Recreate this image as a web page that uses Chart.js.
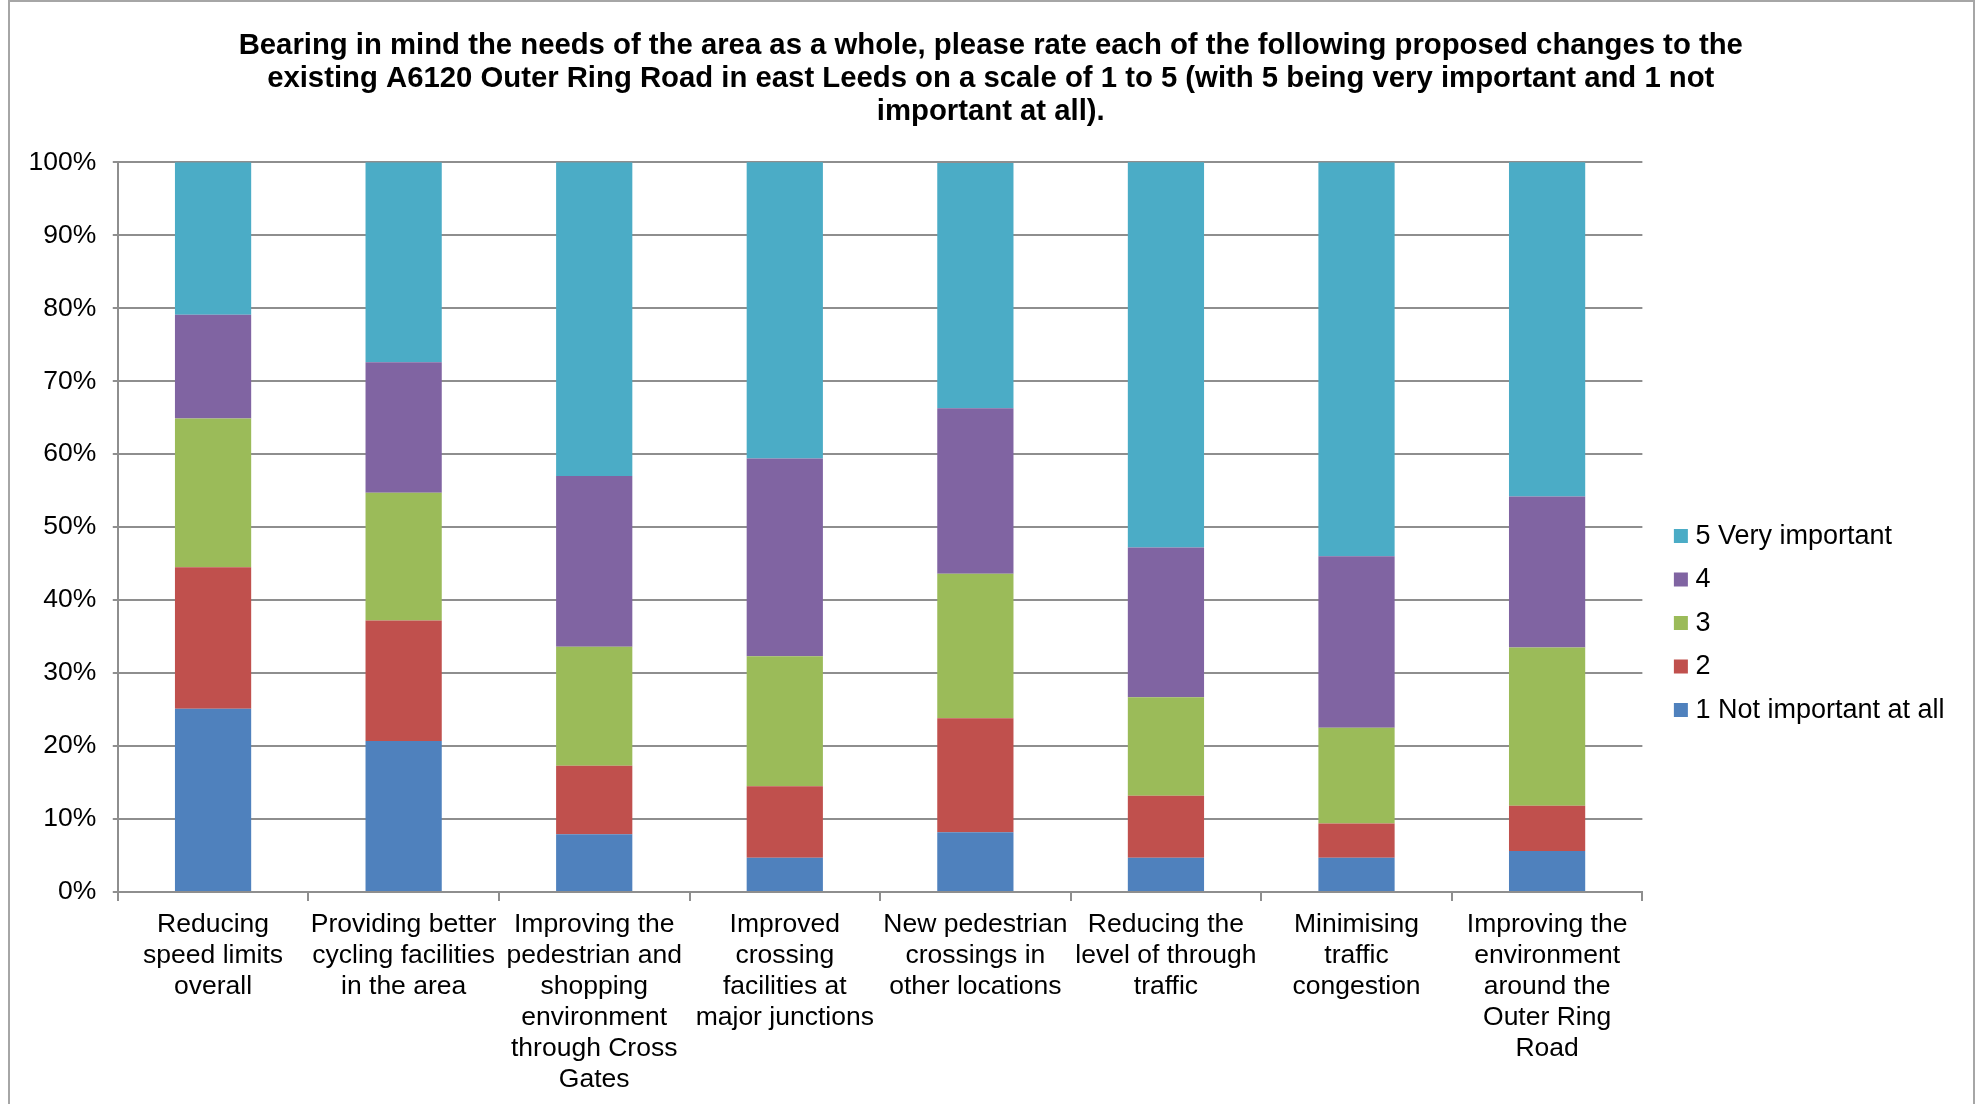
<!DOCTYPE html>
<html>
<head>
<meta charset="utf-8">
<script src="https://cdn.jsdelivr.net/npm/chart.js@4"></script>
<style>
    html, body { margin: 0; padding: 0; background: #fff; overflow: hidden; }
    #frame {
        position: absolute;
        left: 8px;
        top: 0;
        width: 1963px;
        height: 1104px;
        border: 2px solid #a6a6a6;
        border-bottom: none;
    }
</style>
</head>
<body>
<div id="frame">
    <canvas id="ratingChart" width="1963" height="1102"></canvas>
</div>
<script>
// 設問タイトル
const titleLines = [
    'Bearing in mind the needs of the area as a whole, please rate each of the following proposed changes to the',
    'existing A6120 Outer Ring Road in east Leeds on a scale of 1 to 5 (with 5 being very important and 1 not',
    'important at all).'
];

// カテゴリ (複数行ラベル)
const categories = [
    ['Reducing', 'speed limits', 'overall'],
    ['Providing better', 'cycling facilities', 'in the area'],
    ['Improving the', 'pedestrian and', 'shopping', 'environment', 'through Cross', 'Gates'],
    ['Improved', 'crossing', 'facilities at', 'major junctions'],
    ['New pedestrian', 'crossings in', 'other locations'],
    ['Reducing the', 'level of through', 'traffic'],
    ['Minimising', 'traffic', 'congestion'],
    ['Improving the', 'environment', 'around the', 'Outer Ring', 'Road']
];

// 各評価の割合 (%)
const rating1 = [25.1, 20.7, 7.9, 4.7, 8.2, 4.7, 4.7, 5.6];
const rating2 = [19.4, 16.5, 9.4, 9.8, 15.6, 8.5, 4.7, 6.2];
const rating3 = [20.4, 17.5, 16.3, 17.8, 19.8, 13.5, 13.1, 21.7];
const rating4 = [14.2, 17.9, 23.4, 27.1, 22.7, 20.5, 23.5, 20.7];
const rating5 = [20.9, 27.4, 43.0, 40.7, 33.6, 52.9, 54.0, 45.9];

const seriesLabels = ['1 Not important at all', '2', '3', '4', '5 Very important'];
const seriesColors = ['#4f81bd', '#c0504d', '#9bbb59', '#8064a2', '#4bacc6'];

const fontFamily = "Arial, 'Liberation Sans', sans-serif";
Chart.defaults.font.family = fontFamily;
Chart.defaults.color = '#000';

function createRatingChart() {
    const ctx = document.getElementById('ratingChart').getContext('2d');
    const values = [rating1, rating2, rating3, rating4, rating5];

    new Chart(ctx, {
        type: 'bar',
        data: {
            labels: categories,
            datasets: values.map((data, i) => ({
                label: seriesLabels[i],
                data: data,
                backgroundColor: seriesColors[i],
                borderWidth: 0,
                barPercentage: 0.4,
                categoryPercentage: 1.0
            }))
        },
        options: {
            responsive: false,
            animation: false,
            layout: {
                padding: { left: 2, right: 3.5, top: 0, bottom: 1 }
            },
            plugins: {
                title: {
                    display: true,
                    text: titleLines,
                    font: { size: 29.3, weight: 'bold', lineHeight: 1.13 },
                    padding: { top: 27.5, bottom: 33.5 }
                },
                legend: {
                    position: 'right',
                    reverse: true,
                    // 凡例を下寄せするための空タイトル
                    title: {
                        display: true,
                        text: ' ',
                        font: { size: 1 },
                        padding: { top: 140, bottom: 0 }
                    },
                    labels: {
                        font: { size: 27 },
                        usePointStyle: true,
                        pointStyle: 'rect',
                        boxWidth: 2,
                        boxHeight: 14,
                        padding: 16.5,
                        // 右側の余白分だけ凡例幅を広げる
                        generateLabels: function(chart) {
                            const items = Chart.defaults.plugins.legend.labels.generateLabels(chart);
                            return items.map(item => Object.assign(item, { text: item.text + '  ' }));
                        }
                    }
                },
                tooltip: { enabled: false }
            },
            scales: {
                x: {
                    stacked: true,
                    grid: {
                        offset: true,
                        drawOnChartArea: false,
                        drawTicks: true,
                        tickLength: 9,
                        color: '#8e8e8e',
                        lineWidth: 2
                    },
                    border: { color: '#8e8e8e', width: 2 },
                    ticks: {
                        font: { size: 26.5, lineHeight: 1.17 },
                        maxRotation: 0,
                        autoSkip: false,
                        padding: 8
                    }
                },
                y: {
                    stacked: true,
                    min: 0,
                    max: 100,
                    grid: {
                        color: '#8e8e8e',
                        lineWidth: 2,
                        tickLength: 5
                    },
                    border: { color: '#8e8e8e', width: 2 },
                    ticks: {
                        stepSize: 10,
                        font: { size: 26.5 },
                        padding: 16.5,
                        callback: function(value) {
                            return value + '%';
                        }
                    }
                },
                // プロットと凡例の間の余白用
                gap: {
                    axis: 'y',
                    position: 'right',
                    grid: { display: false },
                    border: { display: false },
                    ticks: { display: false },
                    afterFit: function(scale) {
                        scale.width = 21;
                    }
                }
            }
        }
    });
}

createRatingChart();
</script>
</body>
</html>
